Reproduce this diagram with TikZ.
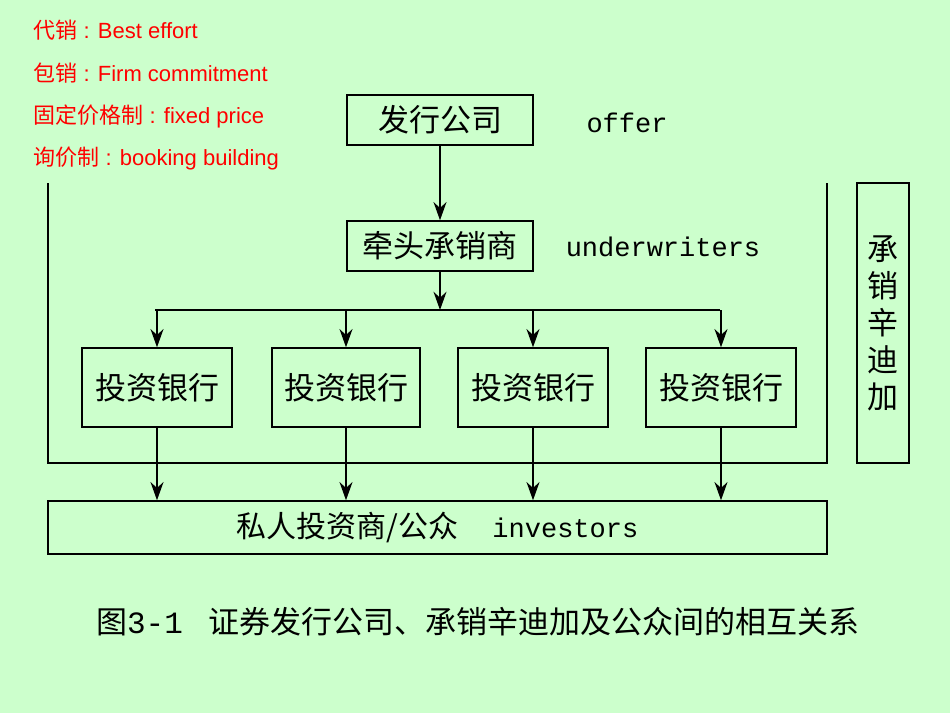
\documentclass[tikz,border=0pt]{standalone}
\usepackage{fontspec}
\setmainfont{Liberation Sans}
\newfontfamily\cjk{Noto Sans CJK SC}
\newfontfamily\mono{Liberation Mono}
\usetikzlibrary{arrows.meta}
\definecolor{bg}{RGB}{204,255,204}
\begin{document}
\begin{tikzpicture}[x=1pt,y=-1pt,
  box/.style={draw,line width=1.5pt,inner sep=0pt},
  lbl/.style={font=\cjk\fontsize{31}{33}\selectfont},
  eng/.style={font=\mono\fontsize{27}{29}\selectfont},
  red/.style={text=red,anchor=west,font=\fontsize{22}{24}\selectfont},
  arr/.style={line width=1.5pt,-{Stealth[length=14pt,width=10pt,scale=1.3]}},
  ln/.style={line width=1.5pt}]
\fill[bg] (0,0) rectangle (950,713);
\useasboundingbox (0,0) rectangle (950,713);
\node[red] (r1) at (30,30) {{\cjk 代销} : Best effort};
\node[red] (r2) at (30,73) {{\cjk 包销} : Firm commitment};
\node[red] (r3) at (30,116) {{\cjk 固定价格制} : fixed price};
\node[red] (r4) at (30,159) {{\cjk 询价制} : booking building};
\node[box,minimum width=186pt,minimum height=50pt,lbl] (iss) at (440,120) {发行公司};
\node[eng] (off) at (627,123) {offer};
\node[box,minimum width=186pt,minimum height=50pt,lbl] (lead) at (440,246) {牵头承销商};
\node[eng] (uw) at (663,247) {underwriters};
\foreach \i/\x/\w in {1/157/150,2/346/148,3/533/150,4/721/150}
  \node[box,minimum width=\w pt,minimum height=79pt,lbl] (b\i) at (\x,387.5) {投资银行};
\node[box,minimum width=779pt,minimum height=53pt] (inv) at (437.5,527.5)
  {{\cjk\fontsize{30}{32}\selectfont 私人投资商/公众}\hspace{34pt}{\mono\fontsize{27}{29}\selectfont investors}};
\node[box,minimum width=52pt,minimum height=280pt,align=center,lbl] (syn) at (883,323)
  {承\\[4pt]销\\[4pt]辛\\[4pt]迪\\[4pt]加};
\node[font=\cjk\fontsize{31}{33}\selectfont] (cap) at (478,622) {图{\mono 3-1}\hspace{26pt}证券发行公司、承销辛迪加及公众间的相互关系};
\draw[arr] (iss) -- (lead);
\coordinate (j) at (440,310);
\draw[arr] (lead) -- (j);
\coordinate (jl) at (155,310);
\coordinate (jr) at (720,310);
\draw[ln] (jl) -- (jr);
\foreach \i in {1,...,4}{
  \draw[arr] (b\i.north |- j) -- (b\i.north);
  \draw[arr] (b\i.south) -- (b\i.south |- inv.north);
}
\draw[ln] (48,183) -- (48,463) -- (827,463) -- (827,183);
\end{tikzpicture}
\end{document}
